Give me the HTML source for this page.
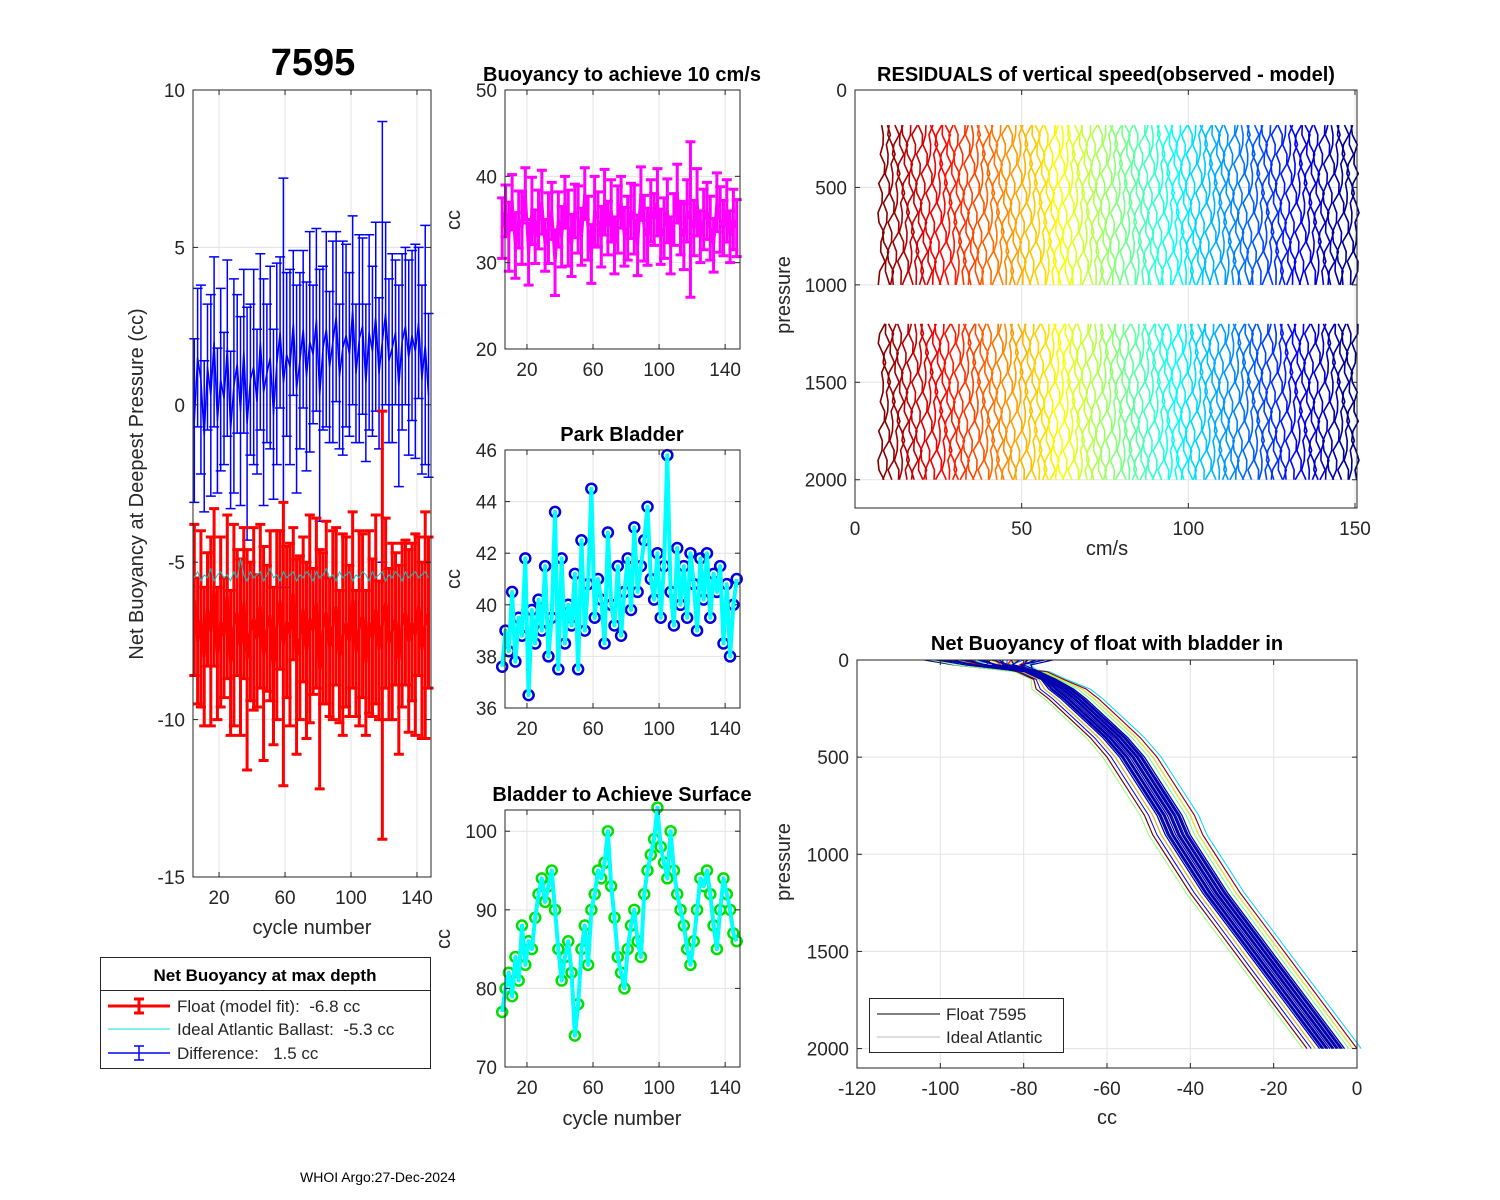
<!DOCTYPE html>
<html><head><meta charset="utf-8"><style>
html,body{margin:0;padding:0;background:#fff;}
svg{display:block;font-family:"Liberation Sans",Arial,sans-serif;}
text{white-space:pre;}
</style></head><body>
<svg id="fig" width="1500" height="1200" viewBox="0 0 1500 1200" xmlns="http://www.w3.org/2000/svg"></svg>
<script>
// ---------- DATA ----------
const cycles = [5,7,9,11,13,15,17,19,21,23,25,27,29,31,33,35,37,39,41,43,45,47,49,51,53,55,57,59,61,63,65,67,69,71,73,75,77,79,81,83,85,87,89,91,93,95,97,99,101,103,105,107,109,111,113,115,117,119,121,123,125,127,129,131,133,135,137,139,141,143,145,147];
const floatFit = [-6.2,-7.5,-6.8,-8.0,-6.5,-7.2,-5.8,-7.9,-6.9,-7.4,-6.1,-8.2,-7.0,-6.6,-7.7,-6.3,-8.1,-7.2,-6.8,-7.5,-6.4,-7.9,-7.1,-6.7,-8.3,-7.0,-6.2,-7.6,-6.9,-7.3,-6.0,-8.0,-7.4,-6.5,-7.8,-6.8,-7.2,-6.3,-8.4,-7.1,-6.6,-7.7,-7.0,-6.4,-8.0,-7.3,-6.9,-7.5,-6.2,-7.9,-7.1,-6.7,-8.2,-6.9,-7.4,-6.5,-7.8,-7.0,-6.3,-7.6,-7.2,-6.8,-8.1,-7.0,-6.6,-7.5,-6.9,-7.3,-6.4,-7.8,-7.0,-6.6];
const floatErr = [2.4,2.0,2.8,2.2,1.8,3.0,2.5,2.1,2.7,1.9,2.6,2.3,3.2,2.0,2.8,2.4,3.5,2.2,2.9,2.1,2.6,3.4,2.0,2.7,2.5,3.0,2.2,4.5,2.4,2.9,2.1,3.1,2.6,2.3,2.8,3.3,2.0,2.7,3.8,2.4,2.9,2.2,3.0,2.5,2.1,3.2,2.7,2.4,2.8,2.0,3.1,2.6,2.3,2.9,2.5,3.0,2.2,6.8,2.7,2.4,2.8,2.1,3.0,2.6,2.3,2.9,2.5,3.2,2.2,2.8,3.6,2.4];
const idealBallast = [-5.5,-5.3,-5.6,-5.4,-5.5,-5.2,-5.6,-5.4,-5.3,-5.5,-5.4,-5.6,-5.3,-5.5,-4.9,-5.4,-5.6,-5.3,-5.5,-5.4,-5.3,-5.6,-5.4,-5.2,-5.5,-5.4,-5.6,-5.3,-5.5,-5.4,-5.3,-5.6,-5.4,-5.5,-5.3,-5.4,-5.6,-5.3,-5.5,-5.4,-5.2,-5.5,-5.4,-5.6,-5.3,-5.5,-5.4,-5.3,-5.6,-5.4,-5.5,-5.3,-5.4,-5.6,-5.3,-5.5,-5.4,-5.3,-5.6,-5.4,-5.5,-5.3,-5.4,-5.6,-5.3,-5.5,-5.4,-5.3,-5.5,-5.4,-5.3,-5.5];
const difference = [-0.5,1.5,0.8,-1.0,1.2,0.3,2.0,-0.5,0.8,0.2,1.8,-0.8,0.6,1.3,-0.2,1.7,-0.6,0.8,1.2,0.1,2.0,0.4,1.0,1.5,-0.3,1.3,2.3,0.7,1.6,1.2,2.6,0.5,1.4,2.4,0.9,2.0,1.6,2.7,0.3,1.8,2.4,1.2,2.0,2.8,0.9,1.8,2.2,1.6,3.0,1.0,2.1,2.5,0.7,2.3,1.7,2.8,1.0,2.0,2.9,1.4,1.8,2.3,0.6,2.0,2.5,1.5,2.2,1.7,2.6,0.8,1.9,0.3];
const diffErr = [2.6,2.2,3.0,2.4,2.0,3.2,2.7,2.3,2.9,2.1,2.8,2.5,3.4,2.2,3.0,2.6,3.7,2.4,3.1,2.3,2.8,3.6,2.2,2.9,2.7,3.2,2.4,6.5,2.6,3.1,2.3,3.3,2.8,2.5,3.0,3.5,2.2,2.9,4.0,2.6,3.1,2.4,3.2,2.7,2.3,3.4,2.9,2.6,3.0,2.2,3.3,2.8,2.5,3.1,2.7,3.0,2.4,7.0,2.9,2.6,3.0,2.3,3.2,2.8,2.5,3.1,2.7,3.4,2.4,3.0,3.8,2.6];
const buoy10 = [34,36,33,37,32,35,34,38,31,36,33,35,37,32,34,36,30,35,33,37,34,32,36,35,33,38,34,31,36,35,33,37,34,36,32,35,37,33,34,36,35,32,38,34,33,36,35,37,33,34,36,32,35,38,34,33,36,35,34,37,33,35,36,34,32,37,35,34,36,33,35,34];
const buoy10Err = [3.5,3.0,4.0,3.2,3.8,3.3,4.2,3.0,3.6,3.9,3.1,3.4,3.7,3.0,4.1,3.3,3.8,3.2,3.5,3.0,4.4,3.6,3.1,3.9,3.3,3.0,3.7,3.4,4.0,3.2,3.5,3.8,3.1,3.6,3.3,3.9,3.0,3.4,3.7,3.2,4.0,3.5,3.1,3.8,3.3,3.6,3.0,3.9,3.2,3.5,3.7,3.3,3.0,3.4,3.1,3.8,3.6,9.0,3.2,3.9,3.0,3.5,3.3,3.7,3.1,3.4,3.8,3.2,3.6,3.0,3.5,3.3];
const parkBladder = [37.6,39.0,38.2,40.5,37.8,39.5,38.8,41.8,36.5,39.8,38.5,40.2,39.0,41.5,38.0,39.5,43.6,37.5,41.8,38.5,40.0,39.2,41.2,37.5,42.5,39.0,40.8,44.5,39.5,41.0,40.2,38.5,42.8,40.0,39.2,41.5,38.8,40.5,41.8,39.8,43.0,40.5,41.5,42.5,43.8,41.0,40.2,42.0,39.5,41.5,45.8,40.5,39.2,42.2,40.0,41.5,39.5,42.0,40.8,39.0,41.8,40.2,42.0,39.5,41.2,40.5,41.5,38.5,40.8,38.0,40.0,41.0];
const surfBladder = [77,80,82,79,84,81,88,83,86,85,89,92,94,91,93,95,90,85,81,84,86,82,74,78,85,88,83,90,92,95,94,96,100,93,89,84,82,80,85,88,90,86,84,92,95,97,99,103,98,96,94,100,95,92,90,88,85,83,86,90,94,93,95,92,88,85,90,94,92,90,87,86];
// residual profiles
const residPressA = [180,230,280,330,380,430,480,530,580,630,680,730,780,830,880,930,1000];
const residPressB = [1200,1250,1300,1350,1400,1450,1500,1550,1600,1650,1700,1750,1800,1850,1900,1950,2000];
const residWiggle = [0.0,0.7,-0.4,1.0,-0.9,0.3,-1.1,0.5,-0.2,0.9,-0.6,0.2,1.2,-0.8,0.4,-0.3,0.8,-1.0,0.1];
const residNum = 101;
const residStart = 8, residEnd = 150;
// net buoyancy profiles
const nbPress = [0,25,60,100,150,200,300,400,500,600,700,800,900,1000,1200,1400,1600,1800,2000];
const nbBase  = [-90,-84,-78,-74,-71,-68,-63,-58,-54,-51,-48,-45,-43,-40,-34,-27,-20,-13,-6];
const nbTop   = [-104,-100,-96,-92,-88,-84,-80,-76,-98,-94,-90,-86,-82,-78,-102,-97,-93,-89,-85,-81,-99,-95,-91,-87,-83,-79,-101,-88];
const nbOffset= [-6,5,2,-5,6,0,-2,3,-4,7,1,-3,0,4,-7,3,-1,5,0,-4,2,-2,3,0,-1,1,6,-6];
const nbDark  = [-3,-2.5,-2,-1.5,-1,-0.5,0,0.5,1,1.5,2,2.5,3,-2.2,-1.2,0.2,1.2,2.2];

const svg = document.getElementById('fig');
const NS = 'http://www.w3.org/2000/svg';
function mk(tag, attrs, parent){ const e=document.createElementNS(NS,tag); for(const k in attrs) e.setAttribute(k,attrs[k]); (parent||svg).appendChild(e); return e; }
function txt(s, x, y, size, anchor, weight, parent, rot){ const t=mk('text',{x:x,y:y,'font-size':size,'text-anchor':anchor||'middle','font-weight':weight||'normal',fill:'#262626'},parent); if(rot) t.setAttribute('transform','rotate(-90 '+x+' '+y+')'); t.textContent=s; return t; }
function jet(v){ const r=Math.max(0,Math.min(1,1.5-Math.abs(4*v-3))), g=Math.max(0,Math.min(1,1.5-Math.abs(4*v-2))), b=Math.max(0,Math.min(1,1.5-Math.abs(4*v-1))); return 'rgb('+Math.round(r*255)+','+Math.round(g*255)+','+Math.round(b*255)+')'; }

function axes(name, x0,y0,x1,y1, xmin,xmax,ymin,ymax, xt, yt, yrev){
  const g=mk('g',{});
  
  
  const sx=v=>x0+(v-xmin)/(xmax-xmin)*(x1-x0);
  const sy=yrev? v=>y0+(v-ymin)/(ymax-ymin)*(y1-y0) : v=>y1-(v-ymin)/(ymax-ymin)*(y1-y0);
  mk('rect',{x:x0,y:y0,width:x1-x0,height:y1-y0,fill:'#fff'},g);
  xt.forEach(v=>{ const X=sx(v); mk('line',{x1:X,x2:X,y1:y0,y2:y1,stroke:'#e3e3e3','stroke-width':1},g); });
  yt.forEach(v=>{ const Y=sy(v); mk('line',{x1:x0,x2:x1,y1:Y,y2:Y,stroke:'#e3e3e3','stroke-width':1},g); });
  const plot=mk('g',{},g);
  const fr=mk('g',{},g);
  mk('rect',{x:x0,y:y0,width:x1-x0,height:y1-y0,fill:'none',stroke:'#262626','stroke-width':1},fr);
  xt.forEach(v=>{ const X=sx(v); mk('line',{x1:X,x2:X,y1:y1,y2:y1-5,stroke:'#262626'},fr); mk('line',{x1:X,x2:X,y1:y0,y2:y0+5,stroke:'#262626'},fr); const t=txt(String(v),X,y1+27,19,'middle','normal',fr);   });
  yt.forEach(v=>{ const Y=sy(v); mk('line',{x1:x0,x2:x0+5,y1:Y,y2:Y,stroke:'#262626'},fr); mk('line',{x1:x1,x2:x1-5,y1:Y,y2:Y,stroke:'#262626'},fr); const t=txt(String(v),x0-8,Y+7,19,'end','normal',fr);   });
  return {sx,sy,plot,fr,x0,x1,y0,y1};
}
function errbars(ax, xs, ys, es, color, lw, cap){
  xs.forEach((c,i)=>{ const X=ax.sx(c), a=ax.sy(ys[i]-es[i]), b=ax.sy(ys[i]+es[i]);
    const l=mk('path',{d:'M'+X+' '+a+'V'+b+'M'+(X-cap)+' '+a+'H'+(X+cap)+'M'+(X-cap)+' '+b+'H'+(X+cap),stroke:color,'stroke-width':lw,fill:'none'},ax.plot);
    
    
  });
}
function line(ax, xs, ys, color, lw, name){
  const d=xs.map((c,i)=>(i?'L':'M')+ax.sx(c).toFixed(1)+' '+ax.sy(ys[i]).toFixed(1)).join('');
  const p=mk('path',{d:d,stroke:color,'stroke-width':lw,fill:'none','stroke-linejoin':'round'},ax.plot);
  
  
  return p;
}
function markers(ax, xs, ys, color, name){
  xs.forEach((c,i)=>{ const m=mk('circle',{cx:ax.sx(c),cy:ax.sy(ys[i]),r:5,fill:'none',stroke:color,'stroke-width':2.5},ax.plot);
    
     });
}

// ---------- Panel 1 ----------
const a1=axes('net-buoyancy-axes',193,90,431,877,4.2,148.5,-15,10,[20,60,100,140],[-15,-10,-5,0,5,10]);
errbars(a1,cycles,difference,diffErr,'#0000ff',1.5,5);
line(a1,cycles,difference,'#0000ff',1.5,'difference-line');
errbars(a1,cycles,floatFit,floatErr,'#ff0000',3,5);
line(a1,cycles,floatFit,'#ff0000',3,'float-fit-line');
line(a1,cycles,idealBallast,'#00c8c8',1,'ideal-ballast-line');
let t=txt('7595',313,75,38,'middle','bold');  
t.setAttribute('fill','#000');
t=txt('cycle number',312,934,20);  
t=txt('Net Buoyancy at Deepest Pressure (cc)',143,484,20,'middle','normal',null,true);  

// legend
const lg=mk('g',{});


mk('rect',{x:100.5,y:957.5,width:330,height:111,fill:'#fff',stroke:'#262626'},lg);
mk('line',{x1:100,x2:430,y1:990.5,y2:990.5,stroke:'#262626'},lg);
txt('Net Buoyancy at max depth',265,981,17,'middle','bold',lg).setAttribute('fill','#000');
mk('path',{d:'M108 1006H170M139 999V1013M134 999H144M134 1013H144',stroke:'#ff0000','stroke-width':3,fill:'none'},lg);
mk('line',{x1:108,x2:170,y1:1029,y2:1029,stroke:'#00e0e0','stroke-width':1},lg);
mk('path',{d:'M108 1053H170M139 1046V1060M134 1046H144M134 1060H144',stroke:'#0000ff','stroke-width':1.5,fill:'none'},lg);
t=txt('Float (model fit):  -6.8 cc',177,1012,17,'start','normal',lg);  
t=txt('Ideal Atlantic Ballast:  -5.3 cc',177,1035,17,'start','normal',lg);  
t=txt('Difference:   1.5 cc',177,1059,17,'start','normal',lg);  

// ---------- Panel 2 ----------
const a2=axes('buoyancy-10cms-axes',505,90,740,349,6.7,149,20,50,[20,60,100,140],[20,30,40,50]);
errbars(a2,cycles,buoy10,buoy10Err,'#ff00ff',3,5);
line(a2,cycles,buoy10,'#ff00ff',3,'buoyancy-10cms-line');
t=txt('Buoyancy to achieve 10 cm/s',622,81,20,'middle','bold');  
t.setAttribute('fill','#000');
t=txt('cc',460,220,20,'middle','normal',null,true);  

// ---------- Panel 3 ----------
const a3=axes('park-bladder-axes',505,450,740,708,6.7,149,36,46,[20,60,100,140],[36,38,40,42,44,46]);
markers(a3,cycles,parkBladder,'#0000e0','park-marker');
line(a3,cycles,parkBladder,'#00ffff',4,'park-bladder-line');
t=txt('Park Bladder',622,441,20,'middle','bold');  
t.setAttribute('fill','#000');
t=txt('cc',460,579,20,'middle','normal',null,true);  

// ---------- Panel 4 ----------
const a4=axes('surface-bladder-axes',505,810,740,1067,6.7,149,70,102.7,[20,60,100,140],[70,80,90,100]);
markers(a4,cycles,surfBladder,'#00e000','surface-marker');
line(a4,cycles,surfBladder,'#00ffff',4,'surface-bladder-line');
t=txt('Bladder to Achieve Surface',622,801,20,'middle','bold');  
t.setAttribute('fill','#000');
t=txt('cycle number',622,1125,20);  
t=txt('cc',450,939,20,'middle','normal',null,true);  

// ---------- Residuals ----------
const a5=axes('residuals-axes',855,90,1357,508,0,150.6,0,2145,[0,50,100,150],[0,500,1000,1500,2000],true);
for(let k=0;k<residNum;k++){
  const base=residStart+k*(residEnd-residStart)/(residNum-1);
  const col=jet(1-k/(residNum-1));
  [residPressA,residPressB].forEach((pp,s)=>{
    const xs=pp.map((p,j)=>base+residWiggle[(j*7+k*5+s*3)%residWiggle.length]);
    const p=mk('path',{d:pp.map((pv,j)=>(j?'L':'M')+a5.sx(xs[j]).toFixed(1)+' '+a5.sy(pv).toFixed(1)).join(''),stroke:col,'stroke-width':1.6,fill:'none','stroke-linejoin':'round'},a5.plot);
    
    
  });
}
t=txt('RESIDUALS of vertical speed(observed - model)',1106,81,20,'middle','bold');  
t.setAttribute('fill','#000');
t=txt('cm/s',1107,555,20);  
t=txt('pressure',790,295,20,'middle','normal',null,true);  

// ---------- Net buoyancy profiles ----------
const a6=axes('net-buoyancy-profile-axes',857,660,1357,1068,-120,0,0,2100,[-120,-100,-80,-60,-40,-20,0],[0,500,1000,1500,2000],true);
const nbN=nbTop.length;
function profileX(top, off, j){ if(j===0) return top; if(j===1) return (top+nbBase[1]+off)/2; return nbBase[j]+off*(j>3?1:0.6); }
for(let k=0;k<nbN;k++){
  const col=jet(k/(nbN-1));
  const d=nbPress.map((p,j)=>(j?'L':'M')+a6.sx(profileX(nbTop[k],nbOffset[k],j)).toFixed(1)+' '+a6.sy(p).toFixed(1)).join('');
  const p=mk('path',{d:d,stroke:col,'stroke-width':1,fill:'none'},a6.plot);
  
  
}
for(let k=0;k<nbDark.length;k++){
  const d=nbPress.map((p,j)=>(j?'L':'M')+a6.sx(profileX(nbTop[k]+3,nbDark[k],j)).toFixed(1)+' '+a6.sy(p).toFixed(1)).join('');
  const p=mk('path',{d:d,stroke:'#0000b0','stroke-width':1.2,fill:'none'},a6.plot);
  
  
}
const lg2=mk('g',{});


mk('rect',{x:869.5,y:998.5,width:194,height:54,fill:'#fff',stroke:'#262626'},lg2);
mk('line',{x1:877,x2:940,y1:1014,y2:1014,stroke:'#000'},lg2);
mk('line',{x1:877,x2:940,y1:1037,y2:1037,stroke:'#bbb'},lg2);
t=txt('Float 7595',946,1020,17,'start','normal',lg2);  
t=txt('Ideal Atlantic',946,1043,17,'start','normal',lg2);  
t=txt('Net Buoyancy of float with bladder in',1107,650,20,'middle','bold');  
t.setAttribute('fill','#000');
t=txt('cc',1107,1124,20);  
t=txt('pressure',790,862,20,'middle','normal',null,true);  

t=txt('WHOI Argo:27-Dec-2024',300,1182,14,'start','normal');  
t.setAttribute('fill','#000');
</script>
</body></html>
